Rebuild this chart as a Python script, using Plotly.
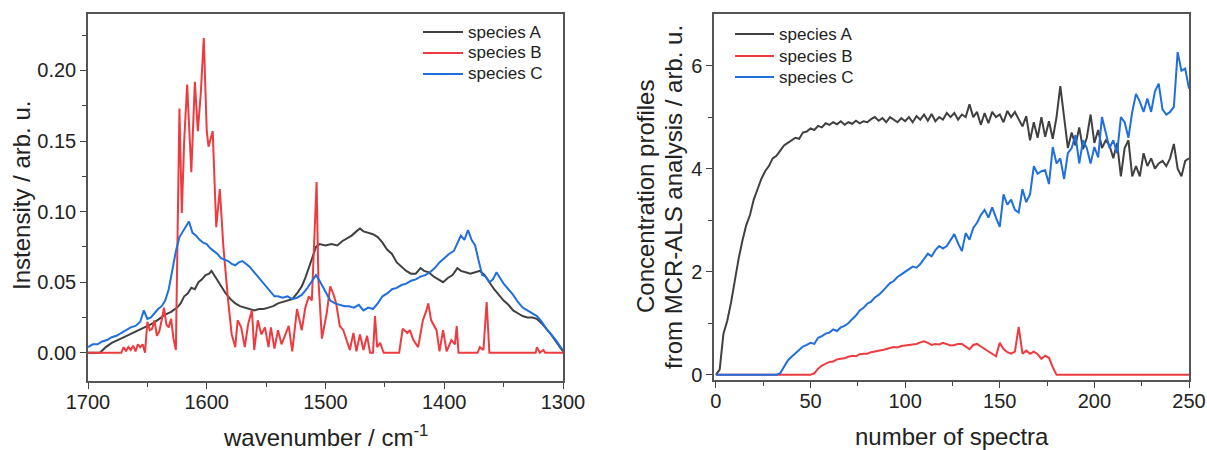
import plotly.graph_objects as go

W, H = 1207, 450

COL_A = "#404040"
COL_B = "#ee3b3f"
COL_C = "#1f6fdc"
FONT = "Liberation Sans, Arial, sans-serif"

# ---------------- left panel: pure-component spectra ----------------
wn_a = [1700, 1690, 1685, 1680, 1675, 1670, 1665, 1660, 1655, 1650, 1645, 1640, 1635, 1630,
        1625, 1622, 1619, 1616, 1613, 1610, 1607, 1604, 1601, 1598, 1596, 1593, 1590, 1587,
        1584, 1580, 1576, 1572, 1568, 1564, 1560, 1556, 1552, 1548, 1544, 1540, 1536, 1532,
        1528, 1524, 1520, 1517, 1514, 1511, 1508, 1505, 1500, 1495, 1490, 1486, 1482, 1478,
        1474, 1471, 1468, 1464, 1460, 1456, 1452, 1448, 1444, 1440, 1436, 1432, 1428, 1424,
        1420, 1417, 1413, 1409, 1405, 1401, 1397, 1393, 1389, 1386, 1382, 1378, 1374, 1370,
        1366, 1362, 1358, 1354, 1350, 1346, 1342, 1338, 1334, 1330, 1326, 1322, 1318, 1314,
        1310, 1306, 1302, 1300]
int_a = [0.000, 0.000, 0.004, 0.007, 0.009, 0.011, 0.013, 0.015, 0.017, 0.019, 0.021, 0.024, 0.027, 0.029,
         0.032, 0.035, 0.040, 0.042, 0.046, 0.045, 0.050, 0.052, 0.055, 0.056, 0.058, 0.054, 0.050, 0.046,
         0.042, 0.038, 0.035, 0.033, 0.032, 0.031, 0.030, 0.031, 0.031, 0.032, 0.033, 0.035, 0.036, 0.037,
         0.038, 0.042, 0.047, 0.053, 0.060, 0.068, 0.075, 0.077, 0.076, 0.077, 0.076, 0.079, 0.081, 0.083,
         0.086, 0.088, 0.086, 0.085, 0.084, 0.082, 0.078, 0.073, 0.070, 0.064, 0.061, 0.058, 0.056, 0.056,
         0.060, 0.058, 0.057, 0.054, 0.052, 0.050, 0.053, 0.055, 0.060, 0.058, 0.057, 0.056, 0.057, 0.058,
         0.055, 0.050, 0.045, 0.041, 0.037, 0.034, 0.030, 0.028, 0.026, 0.025, 0.025, 0.024, 0.021, 0.017,
         0.013, 0.008, 0.003, 0.001]

wn_b = [1700, 1672, 1670, 1668, 1666, 1664, 1662, 1660, 1658, 1656, 1654, 1652, 1650, 1648,
        1646, 1644, 1642, 1640, 1638, 1636, 1634, 1632, 1630, 1628, 1626, 1623, 1621, 1619,
        1616.5, 1613, 1610, 1607.5, 1605, 1602.5, 1600, 1598.5, 1595, 1593.5, 1592, 1589, 1586, 1582,
        1579, 1576, 1574, 1571, 1568, 1565, 1562, 1560, 1557, 1554, 1551, 1548, 1546, 1543,
        1540, 1537, 1534, 1531, 1528, 1524, 1520, 1517, 1514, 1511.5, 1507.5, 1506, 1503, 1499,
        1496, 1493.5, 1491, 1488, 1485, 1482, 1479.5, 1476.5, 1474, 1471, 1468, 1465, 1462.5, 1460,
        1458.3, 1456.5, 1454, 1451, 1438, 1435, 1431, 1429, 1426, 1422, 1418, 1415, 1413.5, 1411,
        1406.5, 1404, 1401, 1398, 1394, 1391, 1389.5, 1388, 1372, 1370, 1367, 1364.3, 1362, 1323,
        1322, 1319.5, 1316.5, 1315, 1300]
int_b = [0.000, 0.000, 0.004, 0.001, 0.004, 0.002, 0.005, 0.001, 0.006, 0.004, 0.006, 0.000, 0.022, 0.016,
         0.017, 0.023, 0.012, 0.015, 0.023, 0.032, 0.020, 0.018, 0.024, 0.010, 0.002, 0.173, 0.099, 0.150,
         0.190, 0.128, 0.192, 0.157, 0.184, 0.223, 0.157, 0.146, 0.157, 0.122, 0.089, 0.116, 0.075, 0.037,
         0.013, 0.004, 0.023, 0.018, 0.004, 0.021, 0.030, 0.002, 0.023, 0.013, 0.018, 0.004, 0.018, 0.003,
         0.016, 0.006, 0.013, 0.019, 0.001, 0.031, 0.016, 0.032, 0.040, 0.037, 0.121, 0.052, 0.010, 0.028,
         0.047, 0.042, 0.035, 0.019, 0.016, 0.009, 0.002, 0.014, 0.001, 0.013, 0.002, 0.012, 0.000, 0.000,
         0.026, 0.004, 0.007, 0.000, 0.000, 0.017, 0.014, 0.016, 0.009, 0.004, 0.023, 0.030, 0.035, 0.023,
         0.016, 0.001, 0.016, 0.001, 0.009, 0.006, 0.019, 0.000, 0.000, 0.004, 0.002, 0.036, 0.000, 0.000,
         0.004, 0.000, 0.002, 0.000, 0.000]

wn_c = [1700, 1696, 1692, 1688, 1684, 1680, 1676, 1672, 1668, 1664, 1660, 1656, 1653, 1650,
        1647, 1644, 1641, 1638, 1635, 1632, 1629, 1626, 1623, 1620, 1617, 1615, 1612, 1609,
        1606, 1603, 1600, 1597, 1594, 1591, 1588, 1585, 1582, 1579, 1576, 1573, 1570, 1567,
        1564, 1561, 1558, 1555, 1552, 1549, 1546, 1543, 1540, 1536, 1532, 1528, 1524, 1520,
        1516, 1512, 1508, 1505, 1502, 1499, 1496, 1492, 1488, 1484, 1480, 1476, 1472, 1468,
        1464, 1460, 1456, 1452, 1448, 1444, 1440, 1436, 1432, 1428, 1424, 1420, 1416, 1412,
        1408, 1404, 1400, 1396, 1392, 1389, 1386, 1383, 1380, 1377, 1374, 1371, 1368, 1365,
        1362, 1359, 1356, 1353, 1350, 1346, 1342, 1338, 1334, 1330, 1326, 1322, 1318, 1314,
        1310, 1306, 1302, 1300]
int_c = [0.004, 0.006, 0.006, 0.008, 0.009, 0.011, 0.012, 0.014, 0.016, 0.018, 0.019, 0.022, 0.030, 0.024,
         0.025, 0.028, 0.031, 0.033, 0.037, 0.045, 0.058, 0.072, 0.082, 0.086, 0.090, 0.093, 0.085, 0.083,
         0.080, 0.078, 0.077, 0.074, 0.072, 0.070, 0.067, 0.066, 0.065, 0.063, 0.062, 0.064, 0.065, 0.063,
         0.061, 0.058, 0.055, 0.052, 0.049, 0.046, 0.043, 0.040, 0.040, 0.039, 0.040, 0.038, 0.039, 0.041,
         0.045, 0.050, 0.055, 0.051, 0.046, 0.042, 0.037, 0.035, 0.034, 0.033, 0.033, 0.032, 0.034, 0.030,
         0.032, 0.031, 0.035, 0.040, 0.042, 0.045, 0.046, 0.048, 0.049, 0.051, 0.052, 0.054, 0.055, 0.057,
         0.060, 0.064, 0.067, 0.070, 0.072, 0.078, 0.083, 0.080, 0.087, 0.080, 0.076, 0.065, 0.055, 0.054,
         0.050, 0.052, 0.057, 0.053, 0.049, 0.045, 0.041, 0.036, 0.032, 0.030, 0.028, 0.026, 0.022, 0.017,
         0.013, 0.009, 0.004, 0.002]

# ---------------- right panel: MCR-ALS concentration profiles ----------------
spectrum_no = list(range(0, 251, 2))
conc_a = [0.00, 0.10, 0.80, 1.05, 1.40, 1.85, 2.25, 2.60, 2.90, 3.10,
          3.40, 3.60, 3.80, 3.95, 4.05, 4.20, 4.25, 4.35, 4.45, 4.50,
          4.55, 4.60, 4.58, 4.70, 4.72, 4.78, 4.75, 4.83, 4.80, 4.88,
          4.85, 4.90, 4.86, 4.92, 4.85, 4.90, 4.87, 4.93, 4.88, 4.92,
          4.90, 4.96, 5.00, 4.93, 4.98, 4.90, 5.00, 4.95, 4.90, 4.98,
          4.92, 5.00, 4.90, 5.02, 4.95, 5.05, 4.93, 5.06, 4.92, 5.00,
          4.95, 5.08, 5.00, 5.08, 4.95, 5.05, 5.00, 5.25, 5.00, 5.10,
          4.85, 5.08, 4.88, 5.10, 5.00, 5.05, 4.90, 5.12, 5.00, 5.10,
          4.95, 4.82, 5.02, 4.55, 4.90, 4.60, 5.00, 4.62, 4.92, 4.58,
          5.00, 5.60, 5.00, 4.40, 4.70, 4.45, 4.80, 4.38, 4.60, 5.05,
          4.50, 4.75, 4.40, 4.55, 4.45, 4.20, 4.50, 3.85, 4.40, 4.55,
          3.85, 4.05, 3.85, 4.30, 4.05, 4.20, 4.00, 4.10, 4.15, 4.05,
          4.20, 4.48, 4.00, 3.85, 4.15, 4.20]
conc_b = [0.00, 0.00, 0.00, 0.00, 0.00, 0.00, 0.00, 0.00, 0.00, 0.00,
          0.00, 0.00, 0.00, 0.00, 0.00, 0.00, 0.00, 0.00, 0.00, 0.00,
          0.00, 0.00, 0.00, 0.00, 0.00, 0.00, 0.03, 0.12, 0.18, 0.22,
          0.25, 0.26, 0.30, 0.31, 0.32, 0.35, 0.37, 0.36, 0.40, 0.41,
          0.41, 0.44, 0.45, 0.47, 0.48, 0.50, 0.52, 0.54, 0.53, 0.56,
          0.57, 0.58, 0.60, 0.60, 0.63, 0.65, 0.62, 0.58, 0.60, 0.59,
          0.62, 0.60, 0.57, 0.58, 0.60, 0.60, 0.55, 0.50, 0.58, 0.60,
          0.55, 0.50, 0.45, 0.40, 0.36, 0.62, 0.50, 0.44, 0.41, 0.45,
          0.93, 0.41, 0.47, 0.41, 0.45, 0.40, 0.31, 0.37, 0.33, 0.15,
          0.00, 0.00, 0.00, 0.00, 0.00, 0.00, 0.00, 0.00, 0.00, 0.00,
          0.00, 0.00, 0.00, 0.00, 0.00, 0.00, 0.00, 0.00, 0.00, 0.00,
          0.00, 0.00, 0.00, 0.00, 0.00, 0.00, 0.00, 0.00, 0.00, 0.00,
          0.00, 0.00, 0.00, 0.00, 0.00, 0.00]
conc_c = [0.00, 0.00, 0.00, 0.00, 0.00, 0.00, 0.00, 0.00, 0.00, 0.00,
          0.00, 0.00, 0.00, 0.00, 0.00, 0.00, 0.00, 0.03, 0.15, 0.28,
          0.35, 0.42, 0.50, 0.55, 0.58, 0.62, 0.60, 0.72, 0.75, 0.80,
          0.82, 0.88, 0.85, 0.92, 0.95, 1.00, 1.08, 1.15, 1.25, 1.30,
          1.38, 1.42, 1.50, 1.55, 1.62, 1.70, 1.78, 1.82, 1.90, 1.95,
          2.00, 2.05, 2.10, 2.08, 2.15, 2.25, 2.35, 2.30, 2.42, 2.50,
          2.45, 2.50, 2.62, 2.73, 2.55, 2.40, 2.75, 2.62, 2.85, 2.95,
          3.10, 3.20, 3.05, 3.25, 3.05, 2.87, 3.50, 3.30, 3.40, 3.20,
          3.15, 3.60, 3.35, 3.50, 4.05, 3.90, 3.95, 3.97, 3.70, 4.42,
          4.10, 4.20, 3.80, 4.30, 4.40, 4.65, 4.10, 4.55, 4.40, 4.10,
          4.42, 4.22, 5.00, 4.70, 4.40, 4.55, 4.30, 5.00, 4.90, 4.60,
          5.10, 5.45, 5.30, 5.10, 5.36, 5.10, 5.50, 5.65, 5.15, 5.05,
          5.10, 5.20, 6.26, 5.90, 5.94, 5.55]

species = ["species A", "species B", "species C"]
colors = [COL_A, COL_B, COL_C]

fig = go.Figure()

for name, col, xs, ys in zip(species, colors, [wn_a, wn_b, wn_c], [int_a, int_b, int_c]):
    fig.add_trace(go.Scatter(x=xs, y=ys, mode="lines", name=name, showlegend=False,
                             line=dict(color=col, width=2), xaxis="x", yaxis="y"))

for name, col, ys in zip(species, colors, [conc_a, conc_b, conc_c]):
    fig.add_trace(go.Scatter(x=spectrum_no, y=ys, mode="lines", name=name, showlegend=False,
                             line=dict(color=col, width=2), xaxis="x2", yaxis="y2"))

axis_common = dict(showgrid=False, zeroline=False, showline=True, mirror=True,
                   linecolor="#555555", linewidth=1.5, ticks="outside", ticklen=6,
                   tickwidth=1.3, tickcolor="#444444", automargin=False,
                   tickfont=dict(family=FONT, size=20, color="#222222"))

fig.update_layout(
    width=W, height=H,
    margin=dict(l=0, r=0, t=0, b=0, autoexpand=False),
    paper_bgcolor="white", plot_bgcolor="white",
    showlegend=False,
    xaxis=dict(domain=[88 / W, 563 / W], range=[1700, 1300], anchor="y",
               tickvals=[1700, 1600, 1500, 1400, 1300], ticklabelstandoff=-4,
               minor=dict(ticks="outside", ticklen=4, tickcolor="#444444",
                          tickvals=[1650, 1550, 1450, 1350]),
               **axis_common),
    yaxis=dict(domain=[1 - 381 / H, 1 - 14 / H], range=[-0.02, 0.24], anchor="x",
               tickvals=[0.0, 0.05, 0.10, 0.15, 0.20], tickformat=".2f",
               minor=dict(ticks="outside", ticklen=4, tickcolor="#444444",
                          tickvals=[-0.025, 0.025, 0.075, 0.125, 0.175, 0.225]),
               **axis_common),
    xaxis2=dict(domain=[714 / W, 1189 / W], range=[-1, 250], anchor="y2",
                tickvals=[0, 50, 100, 150, 200, 250], ticklabelstandoff=-4,
                minor=dict(ticks="outside", ticklen=4, tickcolor="#444444",
                           tickvals=[25, 75, 125, 175, 225]),
                **axis_common),
    yaxis2=dict(domain=[1 - 380 / H, 1 - 14 / H], range=[-0.1, 7], anchor="x2",
                tickvals=[0, 2, 4, 6],
                minor=dict(ticks="outside", ticklen=4, tickcolor="#444444",
                           tickvals=[1, 3, 5]),
                **axis_common),
)

# legend keys for each panel: (line start px, line end px, text px, row centres px)
legend_boxes = [
    (423, 463, 466, [32, 53, 74]),
    (735, 774, 777, [34, 56, 77]),
]
legend_font = dict(family=FONT, size=17, color="#222222")
for x0, x1, xt, rows in legend_boxes:
    for name, col, yr in zip(species, colors, rows):
        fig.add_shape(type="line", xref="paper", yref="paper",
                      x0=x0 / W, x1=x1 / W, y0=1 - yr / H, y1=1 - yr / H,
                      line=dict(color=col, width=2))
        fig.add_annotation(text=name, xref="paper", yref="paper",
                           x=xt / W, y=1 - yr / H, xanchor="left", yanchor="middle",
                           showarrow=False, font=legend_font)

title_font = dict(family=FONT, size=24, color="#222222")
fig.add_annotation(text="wavenumber / cm<sup>-1</sup>", xref="paper", yref="paper",
                   x=325 / W, y=1 - 436 / H, xanchor="center", yanchor="middle",
                   showarrow=False, font=title_font)
fig.add_annotation(text="number of spectra", xref="paper", yref="paper",
                   x=952 / W, y=1 - 436 / H, xanchor="center", yanchor="middle",
                   showarrow=False, font=title_font)
fig.add_annotation(text="Instensity / arb. u.", xref="paper", yref="paper",
                   x=22 / W, y=1 - 196 / H, xanchor="center", yanchor="middle",
                   textangle=-90, showarrow=False, font=title_font)
fig.add_annotation(text="Concentration profiles", xref="paper", yref="paper",
                   x=645 / W, y=1 - 197 / H, xanchor="center", yanchor="middle",
                   textangle=-90, showarrow=False, font=title_font)
fig.add_annotation(text="from MCR-ALS analysis / arb. u.", xref="paper", yref="paper",
                   x=673 / W, y=1 - 197 / H, xanchor="center", yanchor="middle",
                   textangle=-90, showarrow=False, font=title_font)

fig.write_html("out.html")
